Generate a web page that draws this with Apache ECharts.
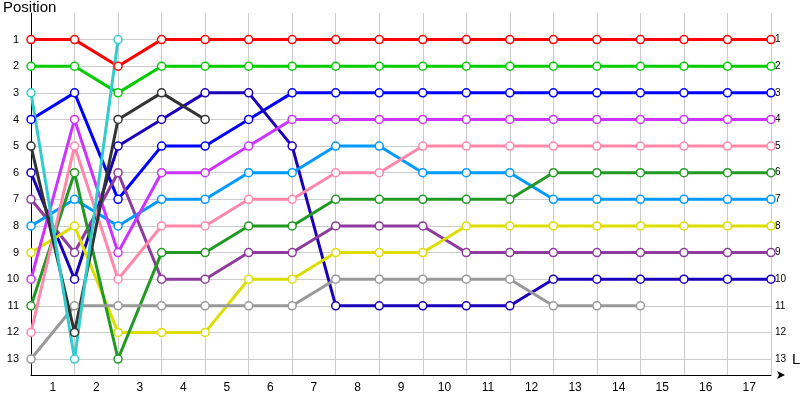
<!DOCTYPE html>
<html>
<head>
<meta charset="utf-8">
<script src="https://cdn.jsdelivr.net/npm/echarts@6/dist/echarts.min.js"></script>
<style>html,body{margin:0;padding:0;background:#fff}#chart{width:800px;height:400px}</style>
</head>
<body>
<div id="chart"></div>
<script>
// lap labels (between the points) and drivers' positions per lap 0..17
var lapLabels = ['1','2','3','4','5','6','7','8','9','10','11','12','13','14','15','16','17'];
var posLabels = ['1','2','3','4','5','6','7','8','9','10','11','12','13'];

var red       = [1,1,2,1,1,1,1,1,1,1,1,1,1,1,1,1,1,1];
var green     = [2,2,3,2,2,2,2,2,2,2,2,2,2,2,2,2,2,2];
var cyan      = [3,13,1];
var blue      = [4,3,7,5,5,4,3,3,3,3,3,3,3,3,3,3,3,3];
var black     = [5,12,4,3,4];
var navy      = [6,10,5,4,3,3,5,11,11,11,11,11,10,10,10,10,10,10];
var purple    = [7,9,6,10,10,9,9,8,8,8,9,9,9,9,9,9,9,9];
var skyblue   = [8,7,8,7,7,6,6,5,5,6,6,6,7,7,7,7,7,7];
var yellow    = [9,8,12,12,12,10,10,9,9,9,8,8,8,8,8,8,8,8];
var magenta   = [10,4,9,6,6,5,4,4,4,4,4,4,4,4,4,4,4,4];
var darkgreen = [11,6,13,9,9,8,8,7,7,7,7,7,6,6,6,6,6,6];
var pink      = [12,5,10,8,8,7,7,6,6,5,5,5,5,5,5,5,5,5];
var gray      = [13,11,11,11,11,11,11,10,10,10,10,10,11,11,11];

var drivers = [
    [red, '#ff0000'], [green, '#00cc00'], [blue, '#0000ff'], [navy, '#1a00bb'],
    [purple, '#8e3a9e'], [skyblue, '#0099ff'], [yellow, '#dddd00'], [magenta, '#cc33ff'],
    [darkgreen, '#229922'], [pink, '#ff88aa'], [gray, '#999999'], [black, '#333333'], [cyan, '#33cccc']
];

var myChart = echarts.init(document.getElementById('chart'));

var gridColors = ['transparent'];
for (var i = 0; i < 14; i++) gridColors.push('#cccccc');

var labelFmt = function (v) { return posLabels.indexOf(String(v)) >= 0 ? String(v) : ''; };

var series = drivers.map(function (d) {
    return {
        type: 'line',
        data: d[0].map(function (v, i) { return [i, v]; }),
        symbol: 'circle',
        symbolSize: 8,
        lineStyle: {color: d[1], width: 3},
        itemStyle: {color: '#ffffff', borderColor: d[1], borderWidth: 1.5},
        silent: true
    };
});

myChart.setOption({
    animation: false,
    grid: {left: 31, right: 29, top: 13, bottom: 25, outerBoundsMode: 'none'},
    xAxis: [
        {
            type: 'value', min: 0, max: 17, interval: 1,
            name: 'Laps', nameLocation: 'end', nameGap: -33,
            nameTextStyle: {fontSize: 15, color: '#000', verticalAlign: 'bottom', padding: [0, 0, 8, 0]},
            axisLine: {onZero: false, lineStyle: {color: '#000'}, symbol: ['none', 'arrow'], symbolSize: [6, 8], symbolOffset: [0, 14]},
            axisTick: {show: false},
            axisLabel: {show: false},
            splitLine: {lineStyle: {color: '#cccccc'}}
        },
        {
            type: 'category', data: lapLabels, boundaryGap: true, position: 'bottom',
            axisLine: {show: false}, axisTick: {show: false},
            axisLabel: {color: '#000', fontSize: 12, margin: 7}
        }
    ],
    yAxis: [
        {
            type: 'value', min: 0, max: 13.6, interval: 1, inverse: true,
            name: 'Position', nameLocation: 'start', nameGap: -2,
            nameTextStyle: {fontSize: 15, color: '#000', align: 'left', padding: [0, 0, 0, -28]},
            axisLine: {lineStyle: {color: '#000'}},
            axisTick: {show: false},
            axisLabel: {color: '#000', fontSize: 11, margin: 12, formatter: labelFmt, showMaxLabel: false},
            splitLine: {lineStyle: {color: gridColors}}
        },
        {
            type: 'value', min: 0, max: 13.6, interval: 1, inverse: true, position: 'right',
            axisLine: {show: false}, axisTick: {show: false}, splitLine: {show: false},
            axisLabel: {color: '#000', fontSize: 10, margin: 4, formatter: labelFmt, showMaxLabel: false}
        }
    ],
    series: series
});
</script>
</body>
</html>
